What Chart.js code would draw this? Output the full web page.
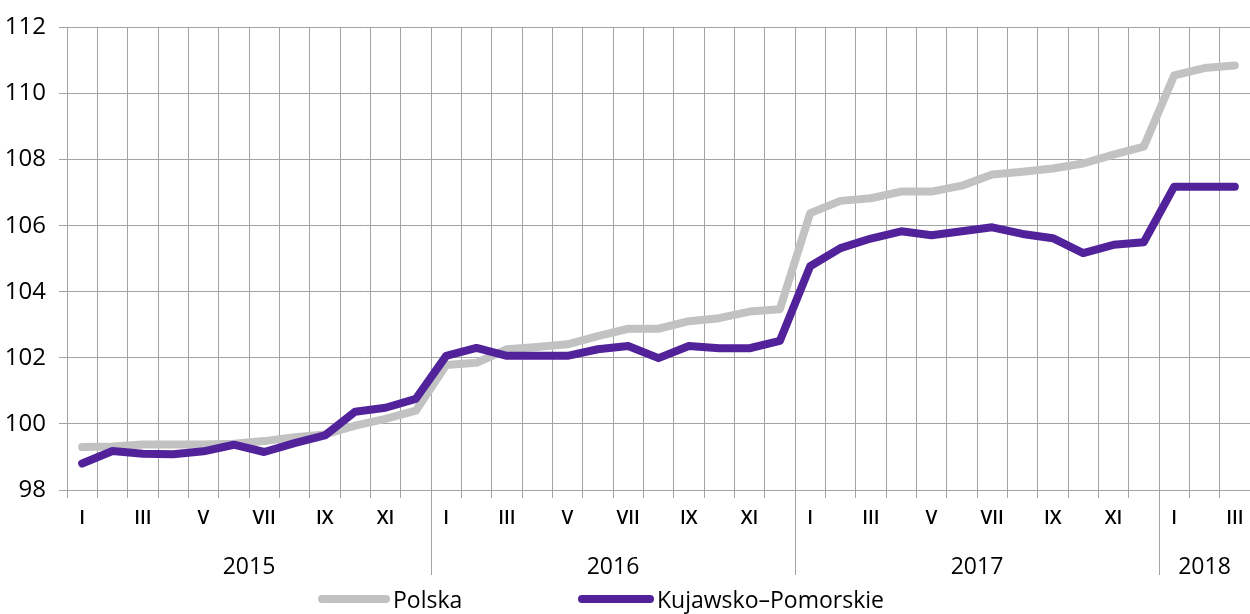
<!DOCTYPE html>
<html>
<head>
<meta charset="utf-8">
<script src="https://cdn.jsdelivr.net/npm/chart.js@4/dist/chart.umd.min.js"></script>
<style>
  body { margin: 0; background: #fff; }
  canvas { display: block; }
</style>
</head>
<body>
<canvas id="cpiChart" width="1250" height="614"></canvas>
<script>
const romans = ['I', 'II', 'III', 'IV', 'V', 'VI', 'VII', 'VIII', 'IX', 'X', 'XI', 'XII'];
const years = ['2015', '2016', '2017', '2018'];
const monthsPerYear = [12, 12, 12, 3];

const monthLabels = [];
years.forEach((y, i) => {
  for (let m = 0; m < monthsPerYear[i]; m++) monthLabels.push(romans[m]);
});

const polska = [
  99.30, 99.32, 99.38, 99.38, 99.38, 99.40, 99.48, 99.60, 99.68, 99.95, 100.15, 100.40,
  101.78, 101.85, 102.26, 102.33, 102.41, 102.66, 102.88, 102.88, 103.11, 103.20, 103.40, 103.47,
  106.38, 106.75, 106.83, 107.03, 107.03, 107.21, 107.55, 107.63, 107.73, 107.88, 108.15, 108.39,
  110.55, 110.77, 110.85
];

const kujPom = [
  98.80, 99.18, 99.10, 99.08, 99.17, 99.37, 99.15, 99.42, 99.65, 100.37, 100.49, 100.76,
  102.06, 102.30, 102.06, 102.06, 102.06, 102.26, 102.36, 101.99, 102.36, 102.29, 102.29, 102.51,
  104.77, 105.32, 105.61, 105.83, 105.71, 105.83, 105.95, 105.75, 105.62, 105.17, 105.42, 105.50,
  107.18, 107.18, 107.18
];

const gridColor = '#a3a3a3';
const fontFamily = "'Open Sans', 'Noto Sans', sans-serif";

// year labels + separators under the month axis, and the legend at the bottom
const yearPlugin = {
  id: 'yearAxis',
  afterDraw(chart) {
    const ctx = chart.ctx;
    const x = chart.scales.x;
    const bottom = chart.chartArea.bottom;
    let start = 0;
    ctx.save();
    ctx.font = '23px ' + fontFamily;
    ctx.fillStyle = '#000';
    ctx.textAlign = 'center';
    ctx.textBaseline = 'middle';
    years.forEach((y, i) => {
      const end = start + monthsPerYear[i] - 1;
      const cx = (x.getPixelForValue(start) + x.getPixelForValue(end)) / 2;
      ctx.fillText(y, cx, 567);
      if (i > 0) {
        const sx = Math.round((x.getPixelForValue(start - 1) + x.getPixelForValue(start)) / 2) + 0.5;
        ctx.strokeStyle = gridColor;
        ctx.lineWidth = 1;
        ctx.beginPath();
        ctx.moveTo(sx, bottom);
        ctx.lineTo(sx, 575);
        ctx.stroke();
      }
      start = end + 1;
    });

    // legend
    const items = [
      { ds: chart.data.datasets[0], x0: 322, x1: 386, tx: 393 },
      { ds: chart.data.datasets[1], x0: 582, x1: 650, tx: 657 }
    ];
    ctx.textAlign = 'left';
    ctx.font = '23px ' + fontFamily;
    items.forEach(it => {
      ctx.strokeStyle = it.ds.borderColor;
      ctx.lineWidth = 8;
      ctx.lineCap = 'round';
      ctx.beginPath();
      ctx.moveTo(it.x0, 599);
      ctx.lineTo(it.x1, 599);
      ctx.stroke();
      ctx.fillText(it.ds.label, it.tx, 601);
    });
    ctx.restore();
  }
};

const cpiChart = new Chart(document.getElementById('cpiChart').getContext('2d'), {
  type: 'line',
  data: {
    labels: monthLabels,
    datasets: [{
      label: 'Polska',
      data: polska,
      borderColor: '#c2c2c2',
      borderWidth: 8,
      pointRadius: 0,
      tension: 0,
      borderCapStyle: 'round',
      borderJoinStyle: 'round',
      order: 1
    }, {
      label: 'Kujawsko\u2013Pomorskie',
      data: kujPom,
      borderColor: '#52229b',
      borderWidth: 8,
      pointRadius: 0,
      tension: 0,
      borderCapStyle: 'round',
      borderJoinStyle: 'round',
      order: 0
    }]
  },
  options: {
    responsive: false,
    animation: false,
    layout: { padding: { top: 25, right: 0, left: 0, bottom: 0 } },
    plugins: {
      legend: { display: false },
      tooltip: { enabled: false }
    },
    scales: {
      x: {
        offset: true,
        grid: { offset: true, color: gridColor, tickLength: 8 },
        border: { color: gridColor },
        ticks: {
          autoSkip: false,
          maxRotation: 0,
          padding: 9,
          color: '#000',
          font: { family: fontFamily, size: 19, weight: '600' },
          callback: (v, i) => (i % 2 === 0 ? monthLabels[i] : '')
        },
        afterFit: s => {
          s.height = 124;
          // plot runs to the right edge of the canvas
          s.paddingLeft = 0;
          s.paddingRight = 0;
        }
      },
      y: {
        min: 98,
        max: 112,
        grid: { color: gridColor, tickLength: 8 },
        border: { color: gridColor },
        ticks: {
          stepSize: 2,
          padding: 13,
          color: '#000',
          font: { family: fontFamily, size: 24 }
        },
        afterFit: s => { s.width = 67; }
      }
    }
  },
  plugins: [yearPlugin]
});
</script>
</body>
</html>
